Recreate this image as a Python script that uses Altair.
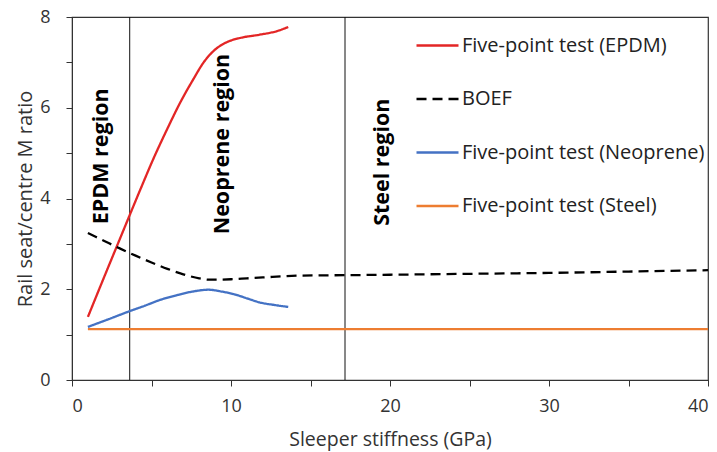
import altair as alt
import pandas as pd

# ---- data ----
epdm_x = [1.0, 2.0, 3.0, 3.6, 4.3, 5.1, 6.0, 6.8, 7.6, 8.3, 8.9, 9.7, 10.6, 11.8, 12.9, 13.6]
epdm_y = [1.39, 2.25, 3.10, 3.61, 4.20, 4.86, 5.54, 6.11, 6.61, 7.01, 7.25, 7.44, 7.54, 7.61, 7.69, 7.78]

boef_x = [1.0, 2.0, 3.0, 4.0, 5.0, 6.0, 7.0, 8.0, 8.7, 10.0, 11.0, 12.0, 14.3, 17.2, 20.0, 25.0, 30.0, 35.0, 40.0]
boef_y = [3.24, 3.07, 2.90, 2.74, 2.59, 2.45, 2.33, 2.24, 2.21, 2.22, 2.24, 2.26, 2.30, 2.31, 2.32, 2.34, 2.36, 2.39, 2.42]

neo_x = [1.0, 2.3, 3.65, 4.6, 5.5, 6.6, 7.6, 8.6, 9.4, 10.2, 11.0, 11.8, 12.7, 13.6]
neo_y = [1.17, 1.34, 1.52, 1.64, 1.76, 1.87, 1.95, 1.99, 1.95, 1.89, 1.80, 1.71, 1.655, 1.61]

steel_x = [1.0, 40.0]
steel_y = [1.12, 1.12]

series_names = ["Five-point test (EPDM)", "BOEF", "Five-point test (Neoprene)", "Five-point test (Steel)"]
series_colors = ["#e32626", "#000000", "#4472c4", "#ed7d31"]
series_dash = [[1, 0], [10, 6], [1, 0], [1, 0]]

region_bounds = [3.63, 17.17]
region_labels = ["EPDM region", "Neoprene region", "Steel region"]
region_label_x = [1.87, 9.52, 19.58]
region_label_y = [4.93, 5.2, 4.8]

x_ticks = [0, 5, 10, 15, 20, 25, 30, 35, 40]
y_ticks = [0, 1, 2, 3, 4, 5, 6, 7, 8]

# ---- tables ----
rows = []
for name, xs, ys in zip(series_names, [epdm_x, boef_x, neo_x, steel_x], [epdm_y, boef_y, neo_y, steel_y]):
    for i, (a, b) in enumerate(zip(xs, ys)):
        rows.append({"series": name, "x": a, "y": b, "order": i})
df = pd.DataFrame(rows)
bounds_df = pd.DataFrame({"x": region_bounds})
labels_df = pd.DataFrame({"label": region_labels, "x": region_label_x, "y": region_label_y})

FONT = "Open Sans"
AX = "#333"

xscale = alt.Scale(domain=[0, 40], nice=False, zero=False)
yscale = alt.Scale(domain=[0, 8], nice=False)

legend_kw = dict(title=None, orient="none", legendX=343, legendY=6,
                 symbolType="stroke", symbolSize=1764, symbolStrokeWidth=2.3,
                 labelFontSize=20, labelFont=FONT, labelColor="#222",
                 rowPadding=20.5, labelOffset=2, labelLimit=400)

lines = alt.Chart(df).mark_line(strokeWidth=2.3, interpolate="monotone").encode(
    x=alt.X("x:Q", scale=xscale, title="Sleeper stiffness (GPa)",
            axis=alt.Axis(values=x_ticks, labelExpr="datum.value % 10 == 0 ? datum.label : ''",
                          grid=False, tickSize=6, labelPadding=11, titlePadding=15,
                          domainColor=AX, tickColor=AX, labelColor=AX, titleColor=AX,
                          labelFontSize=18, titleFontSize=19.5, labelFont=FONT, titleFont=FONT,
                          titleFontWeight="normal")),
    y=alt.Y("y:Q", scale=yscale, title="Rail seat/centre M ratio",
            axis=alt.Axis(values=y_ticks, labelExpr="datum.value % 2 == 0 ? datum.label : ''",
                          grid=False, tickSize=6, labelPadding=16, titlePadding=4,
                          domainColor=AX, tickColor=AX, labelColor=AX, titleColor=AX,
                          labelFontSize=18, titleFontSize=20, labelFont=FONT, titleFont=FONT,
                          titleFontWeight="normal")),
    color=alt.Color("series:N", scale=alt.Scale(domain=series_names, range=series_colors),
                    legend=alt.Legend(**legend_kw)),
    strokeDash=alt.StrokeDash("series:N", scale=alt.Scale(domain=series_names, range=series_dash),
                              legend=alt.Legend(**legend_kw)),
    detail="series:N",
    order="order:Q",
)

rules = alt.Chart(bounds_df).mark_rule(color="#111", strokeWidth=1).encode(x=alt.X("x:Q", scale=xscale))

texts = alt.Chart(labels_df).mark_text(angle=270, font=FONT, fontWeight="bold", fontSize=21.5,
                                       color="#000", align="center", baseline="middle").encode(
    x=alt.X("x:Q", scale=xscale), y=alt.Y("y:Q", scale=yscale), text="label:N")

chart = alt.layer(rules, lines, texts).properties(
    width=636, height=363,
    autosize=alt.AutoSizeParams(type="none"),
    padding={"left": 72, "top": 17, "right": 9, "bottom": 72},
    background="white",
).configure_view(stroke=AX, strokeWidth=1.2)

chart.save("out.html", embed_options={"renderer": "svg", "actions": False})
